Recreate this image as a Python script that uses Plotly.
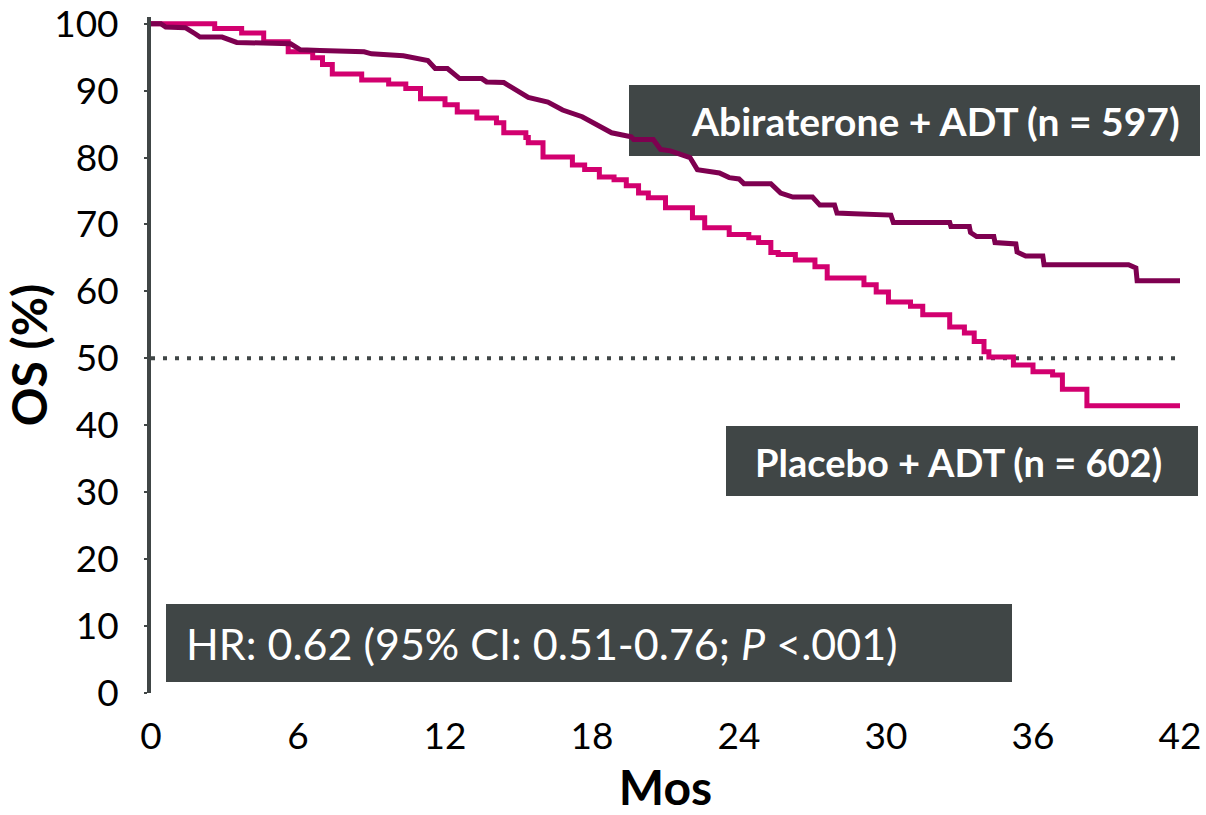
import plotly.graph_objects as go

# ---- data ----
abi_months = [0, 0.4, 0.6, 1.4, 1.8, 2.0, 2.9, 3.5, 5.7, 6.1, 6.9, 8.7, 9.0, 10.3, 11.3, 11.6, 12.1,
              12.6, 13.5, 13.7, 14.4, 15.4, 16.2, 16.8, 17.6, 18.8, 19.6, 19.7, 20.5, 20.8, 21.2,
              22.0, 22.3, 22.8, 23.2, 23.6, 24.0, 24.2, 25.3, 25.7, 26.2, 27.0, 27.3, 27.9, 28.0,
              28.7, 30.2, 30.3, 32.6, 32.65, 33.4, 33.45, 33.7, 34.4, 34.45, 35.3, 35.35, 35.7,
              36.4, 36.45, 39.9, 40.2, 40.25, 42.1]
abi_os = [100, 100, 99.5, 99.4, 98.5, 98.0, 98.0, 97.2, 97.0, 96.1, 96.0, 95.8, 95.5, 95.2, 94.5,
          93.3, 93.3, 91.8, 91.8, 91.3, 91.2, 89.0, 88.3, 87.1, 86.1, 83.7, 83.1, 82.7, 82.7, 81.2,
          81.0, 80.0, 78.2, 77.9, 77.7, 77.0, 76.8, 76.1, 76.1, 74.7, 74.1, 74.1, 72.9, 72.9, 71.7,
          71.6, 71.4, 70.3, 70.3, 69.7, 69.7, 68.8, 68.2, 68.2, 67.3, 67.1, 65.9, 65.3,
          65.3, 64.0, 64.0, 63.5, 61.6, 61.6]

pbo_months = [0, 2.6, 3.7, 4.6, 5.6, 6.6, 7.0, 7.4, 8.6, 9.7, 10.4, 11.0, 12.0, 12.5, 13.3, 14.1,
              14.4, 15.3, 15.4, 16.0, 17.2, 17.7, 18.3, 18.9, 19.4, 19.9, 20.3, 21.0, 22.1, 22.6,
              23.6, 24.4, 24.8, 25.3, 25.6, 26.3, 27.1, 27.6, 29.1, 29.6, 30.1, 31.0, 31.5, 32.6,
              33.2, 33.6, 34.0, 34.2, 35.2, 36.0, 36.8, 37.2, 38.2, 42.1]
pbo_os = [100, 99.3, 98.6, 97.3, 95.8, 94.9, 93.9, 92.5, 91.6, 91.0, 90.3, 88.8, 87.9, 86.8, 85.9,
          85.2, 83.7, 83.0, 82.2, 80.1, 78.9, 78.2, 77.1, 76.7, 75.8, 74.7, 74.0, 72.5, 71.0, 69.5,
          68.5, 68.0, 67.3, 65.8, 65.5, 64.7, 63.7, 62.0, 61.0, 59.9, 58.4, 57.8, 56.5, 54.7,
          53.8, 52.5, 51.0, 50.2, 49.0, 48.0, 47.5, 45.4, 42.9, 42.9]

median_line_x = [0, 42]
median_line_y = [50, 50]

x_ticks = [0, 6, 12, 18, 24, 30, 36, 42]
y_ticks = [0, 10, 20, 30, 40, 50, 60, 70, 80, 90, 100]

abi_label = "Abiraterone + ADT (n = 597)"
pbo_label = "Placebo + ADT (n = 602)"
hr_label = "HR: 0.62 (95% CI: 0.51-0.76; <i>P</i> <.001)"

# ---- styling ----
ABI_COLOR = "#7E0050"
PBO_COLOR = "#D2006F"
BOX_COLOR = "#404646"
FONT = "Lato"

W, H = 1206, 815
ML, MR, MT, MB = 151, 26, 17, 122
PW, PH = W - ML - MR, H - MT - MB


def px(xp):
    return (xp - ML) / PW


def py(yp):
    return (H - MB - yp) / PH


fig = go.Figure()

fig.add_trace(go.Scatter(x=median_line_x, y=median_line_y, mode="lines",
                         line=dict(color=BOX_COLOR, width=4, dash="4px,8px"),
                         showlegend=False, hoverinfo="skip"))
fig.add_trace(go.Scatter(x=pbo_months, y=pbo_os, mode="lines", name=pbo_label,
                         line=dict(color=PBO_COLOR, width=5, shape="hv"), showlegend=False))
fig.add_trace(go.Scatter(x=abi_months, y=abi_os, mode="lines", name=abi_label,
                         line=dict(color=ABI_COLOR, width=5, shape="linear"), showlegend=False))

boxes = [
    (629, 1200, 85, 156),
    (726, 1198, 426, 496),
    (166, 1012, 604, 682),
]
for x0, x1, y0, y1 in boxes:
    fig.add_shape(type="rect", xref="paper", yref="paper",
                  x0=px(x0), x1=px(x1), y0=py(y1), y1=py(y0),
                  fillcolor=BOX_COLOR, line=dict(width=0), layer="below")

fig.add_annotation(xref="paper", yref="paper", x=px(1182), y=py(121), xanchor="right",
                   yanchor="middle", text=f"<b>{abi_label}</b>", showarrow=False,
                   font=dict(family=FONT, size=39, color="white"))
fig.add_annotation(xref="paper", yref="paper", x=px(958), y=py(462), xanchor="center",
                   yanchor="middle", text=f"<b>{pbo_label}</b>", showarrow=False,
                   font=dict(family=FONT, size=38, color="white"))
fig.add_annotation(xref="paper", yref="paper", x=px(184), y=py(643), xanchor="left",
                   yanchor="middle", text=hr_label, showarrow=False,
                   font=dict(family=FONT, size=43, color="white"))

fig.update_layout(
    width=W, height=H,
    margin=dict(l=ML, r=MR, t=MT, b=MB, autoexpand=False),
    paper_bgcolor="white", plot_bgcolor="white",
    font=dict(family=FONT, color="black"),
    xaxis=dict(range=[0, 42], tickvals=x_ticks, showgrid=False, zeroline=False,
               showline=False, ticks="", tickfont=dict(size=37, family=FONT, color="black"),
               ticklabelstandoff=18, ticklabeloverflow="allow",
               title=dict(text="<b>Mos</b>", font=dict(size=48, family=FONT, color="black"),
                          standoff=30)),
    yaxis=dict(range=[0, 101], tickvals=y_ticks, showgrid=False, zeroline=False,
               showline=True, linecolor=BOX_COLOR, linewidth=4,
               ticks="outside", ticklen=3, tickwidth=2, tickcolor=BOX_COLOR,
               tickfont=dict(size=37, family=FONT, color="black"),
               ticklabelstandoff=18, ticklabeloverflow="allow",
               title=dict(text="<b>OS (%)</b>", font=dict(size=48, family=FONT, color="black"),
                          standoff=2)),
)

fig.write_html("out.html")
